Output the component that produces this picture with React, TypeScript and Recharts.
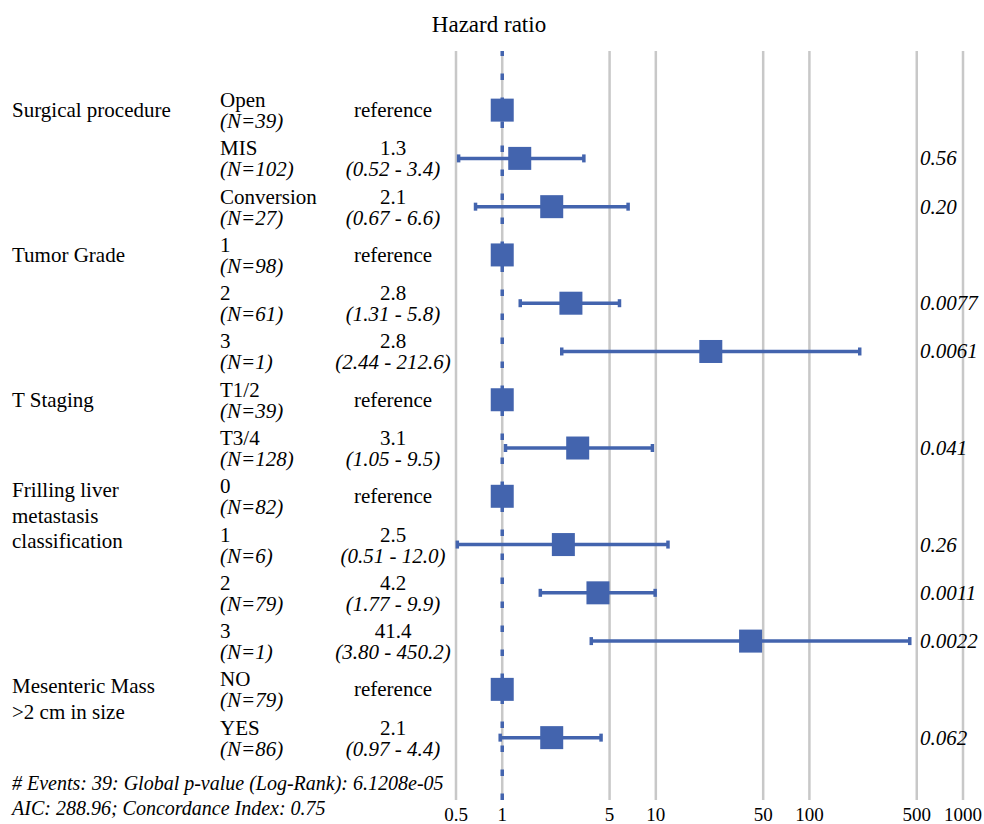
import React from 'react';
import { ComposedChart, Scatter, ErrorBar, XAxis, YAxis, CartesianGrid, ReferenceLine } from 'recharts';

const BLUE = '#4364ae';
const FONT = "'Liberation Serif', 'Times New Roman', Times, Tinos, 'Noto Serif', FreeSerif, 'DejaVu Serif', serif";

// group labels and the row where each group starts
const groupLabels = [
  ['Surgical procedure'],
  ['Tumor Grade'],
  ['T Staging'],
  ['Frilling liver', 'metastasis', 'classification'],
  ['Mesenteric Mass', '>2 cm in size'],
];
const groupStart = [0, 3, 6, 8, 12];

const categories = ['Open', 'MIS', 'Conversion', '1', '2', '3', 'T1/2', 'T3/4', '0', '1', '2', '3', 'NO', 'YES'];
const counts = [39, 102, 27, 98, 61, 1, 39, 128, 82, 6, 79, 1, 79, 86];
const estimateLabels = ['reference', '1.3', '2.1', 'reference', '2.8', '2.8', 'reference', '3.1', 'reference', '2.5', '4.2', '41.4', 'reference', '2.1'];
// plotted hazard ratios (as drawn in the figure)
const hr = [1, 1.3, 2.1, 1, 2.8, 22.8, 1, 3.1, 1, 2.5, 4.2, 41.4, 1, 2.1];
const lower = [null, 0.52, 0.67, null, 1.31, 2.44, null, 1.05, null, 0.51, 1.77, 3.8, null, 0.97];
const upper = [null, 3.4, 6.6, null, 5.8, 212.6, null, 9.5, null, 12.0, 9.9, 450.2, null, 4.4];
const pValues = [null, '0.56', '0.20', null, '0.0077', '0.0061', null, '0.041', null, '0.26', '0.0011', '0.0022', null, '0.062'];

const xTicks = [0.5, 1, 5, 10, 50, 100, 500, 1000];
const footer = [
  '# Events: 39: Global p-value (Log-Rank): 6.1208e-05',
  'AIC: 288.96; Concordance Index: 0.75',
];

const data = hr.map((v, i) => ({
  row: i,
  hr: v,
  err: lower[i] == null ? [0, 0] : [v - (lower[i] as number), (upper[i] as number) - v],
}));

const rowIndex = data.map(d => d.row);

function RowTick(props: any) {
  const { y, payload } = props;
  const i = payload.value as number;
  const g = groupStart.indexOf(i);
  const txt = { fontSize: 21, fill: '#000', dominantBaseline: 'central' as const, fontFamily: FONT };
  return (
    <g>
      {g >= 0 && groupLabels[g].map((line, k) => (
        <text key={k} x={12} y={y - (groupLabels[g].length - 1) * 3 + k * 25.5} {...txt}>{line}</text>
      ))}
      <text x={220} y={y - 10} {...txt}>{categories[i]}</text>
      <text x={220} y={y + 11} {...txt} fontStyle="italic">{`(N=${counts[i]})`}</text>
      {lower[i] == null ? (
        <text x={393} y={y} textAnchor="middle" {...txt}>{estimateLabels[i]}</text>
      ) : (
        <>
          <text x={393} y={y - 10} textAnchor="middle" {...txt}>{estimateLabels[i]}</text>
          <text x={393} y={y + 11} textAnchor="middle" {...txt} fontStyle="italic">
            {`(${(lower[i] as number).toFixed(2)} - ${(upper[i] as number).toFixed(1)})`}
          </text>
        </>
      )}
      {pValues[i] && (
        <text x={920} y={y} {...txt} fontStyle="italic">{pValues[i]}</text>
      )}
    </g>
  );
}

const Square = (p: any) => (
  <rect x={p.cx - 11.5} y={p.cy - 11.5} width={23} height={23} fill={BLUE} />
);

export default function App() {
  return (
    <div style={{ position: 'absolute', left: 0, top: 0, width: 984, height: 824, background: '#fff', fontFamily: FONT }}>
      <ComposedChart width={984} height={824} data={data} margin={{ top: 51, right: 21, bottom: 0, left: 0 }}>
        <XAxis
          dataKey="hr"
          type="number"
          scale="log"
          domain={[0.5, 1000]}
          ticks={xTicks}
          interval={0}
          allowDataOverflow
          axisLine={false}
          tickLine={false}
          height={24}
          tick={{ fontSize: 19, fill: '#000', fontFamily: FONT }}
        />
        <YAxis
          dataKey="row"
          type="number"
          reversed
          domain={[-1.225, 14.292]}
          ticks={rowIndex}
          interval={0}
          allowDataOverflow
          axisLine={false}
          tickLine={false}
          width={456}
          tick={<RowTick />}
        />
        <CartesianGrid horizontal={false} stroke="#c8c8c8" strokeWidth={2.5} />
        <ReferenceLine x={1} stroke={BLUE} strokeWidth={3.5} strokeDasharray="6.5 17.5" />
        <Scatter dataKey="hr" fill={BLUE} shape={Square} isAnimationActive={false}>
          <ErrorBar dataKey="err" direction="x" width={4} strokeWidth={3.5} stroke={BLUE} isAnimationActive={false} />
        </Scatter>
      </ComposedChart>
      <svg width={984} height={824} style={{ position: 'absolute', left: 0, top: 0, pointerEvents: 'none' }}>
        <text x={489} y={24} textAnchor="middle" dominantBaseline="central" fontSize={23} fontFamily={FONT}>Hazard ratio</text>
        {footer.map((line, k) => (
          <text key={k} x={12} y={783 + k * 25} dominantBaseline="central" fontSize={20} fontStyle="italic" fontFamily={FONT}>{line}</text>
        ))}
      </svg>
    </div>
  );
}
